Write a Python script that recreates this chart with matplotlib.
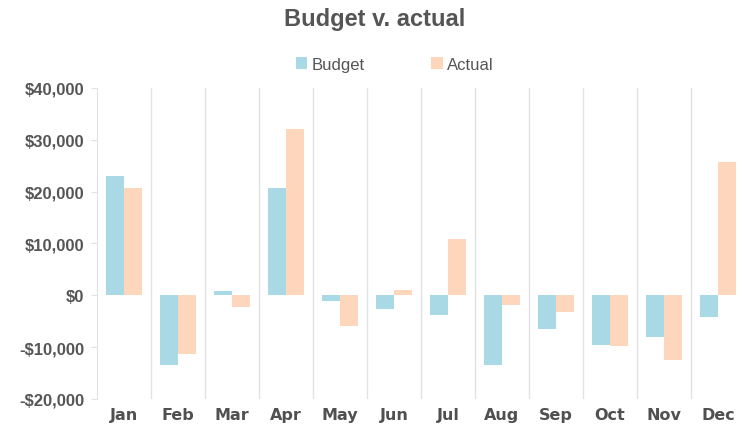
import matplotlib
matplotlib.use('Agg')
import matplotlib.pyplot as plt
from matplotlib.ticker import FuncFormatter
import numpy as np

months = ['Jan', 'Feb', 'Mar', 'Apr', 'May', 'Jun', 'Jul', 'Aug', 'Sep', 'Oct', 'Nov', 'Dec']
budget = [23000, -13400, 800, 20600, -1200, -2600, -3800, -13400, -6500, -9500, -8100, -4100]
actual = [20600, -11300, -2200, 32000, -6000, 1100, 10800, -1900, -3300, -9700, -12500, 25700]
y_ticks = [-20000, -10000, 0, 10000, 20000, 30000, 40000]

BLUE = '#a9d9e5'
PEACH = '#fdd6bb'
TEXT = '#555555'

fig = plt.figure(figsize=(7.49, 4.31), dpi=100)
ax = fig.add_axes([0.1295, 0.072, 0.865, 0.722])

x = np.arange(len(months))
w = 0.34
ax.bar(x - w / 2, budget, w, color=BLUE, label='Budget', zorder=2)
ax.bar(x + w / 2, actual, w, color=PEACH, label='Actual', zorder=2)

ax.set_xlim(-0.5, len(months) - 0.5)
ax.set_ylim(-20000, 40000)
ax.set_yticks(y_ticks)

def money(v, pos):
    if v < 0:
        return '-${:,.0f}'.format(-v)
    return '${:,.0f}'.format(v)

ax.yaxis.set_major_formatter(FuncFormatter(money))
ax.set_xticks(x)
ax.set_xticklabels(months)

# vertical separators between months
for b in np.arange(0.5, len(months) - 0.5, 1):
    ax.axvline(b, color='#e2e2e2', lw=1, zorder=1)

for s in ['top', 'right', 'bottom']:
    ax.spines[s].set_visible(False)
ax.spines['left'].set_color('#e2e2e2')
ax.tick_params(axis='y', length=4, color='#e2e2e2', labelsize=12, labelcolor=TEXT, pad=5)
ax.tick_params(axis='x', length=0, labelsize=11.5, labelcolor='#505050', pad=6)
for lbl in ax.get_yticklabels():
    lbl.set_fontweight('bold')
    lbl.set_family('Liberation Sans')
for lbl in ax.get_xticklabels():
    lbl.set_fontweight('bold')
    lbl.set_family('DejaVu Sans')

fig.text(0.5, 0.955, 'Budget v. actual', ha='center', va='center', fontsize=17,
         fontweight='bold', color='#555555', family='Liberation Sans')

leg = fig.legend(loc='center', bbox_to_anchor=(0.527, 0.848), ncol=2, frameon=False,
                 handlelength=0.7, handleheight=0.7, handletextpad=0.25, columnspacing=4.0,
                 prop={'family': 'Liberation Sans', 'size': 12})
for t in leg.get_texts():
    t.set_color(TEXT)

fig.savefig('out.png', dpi=100)
